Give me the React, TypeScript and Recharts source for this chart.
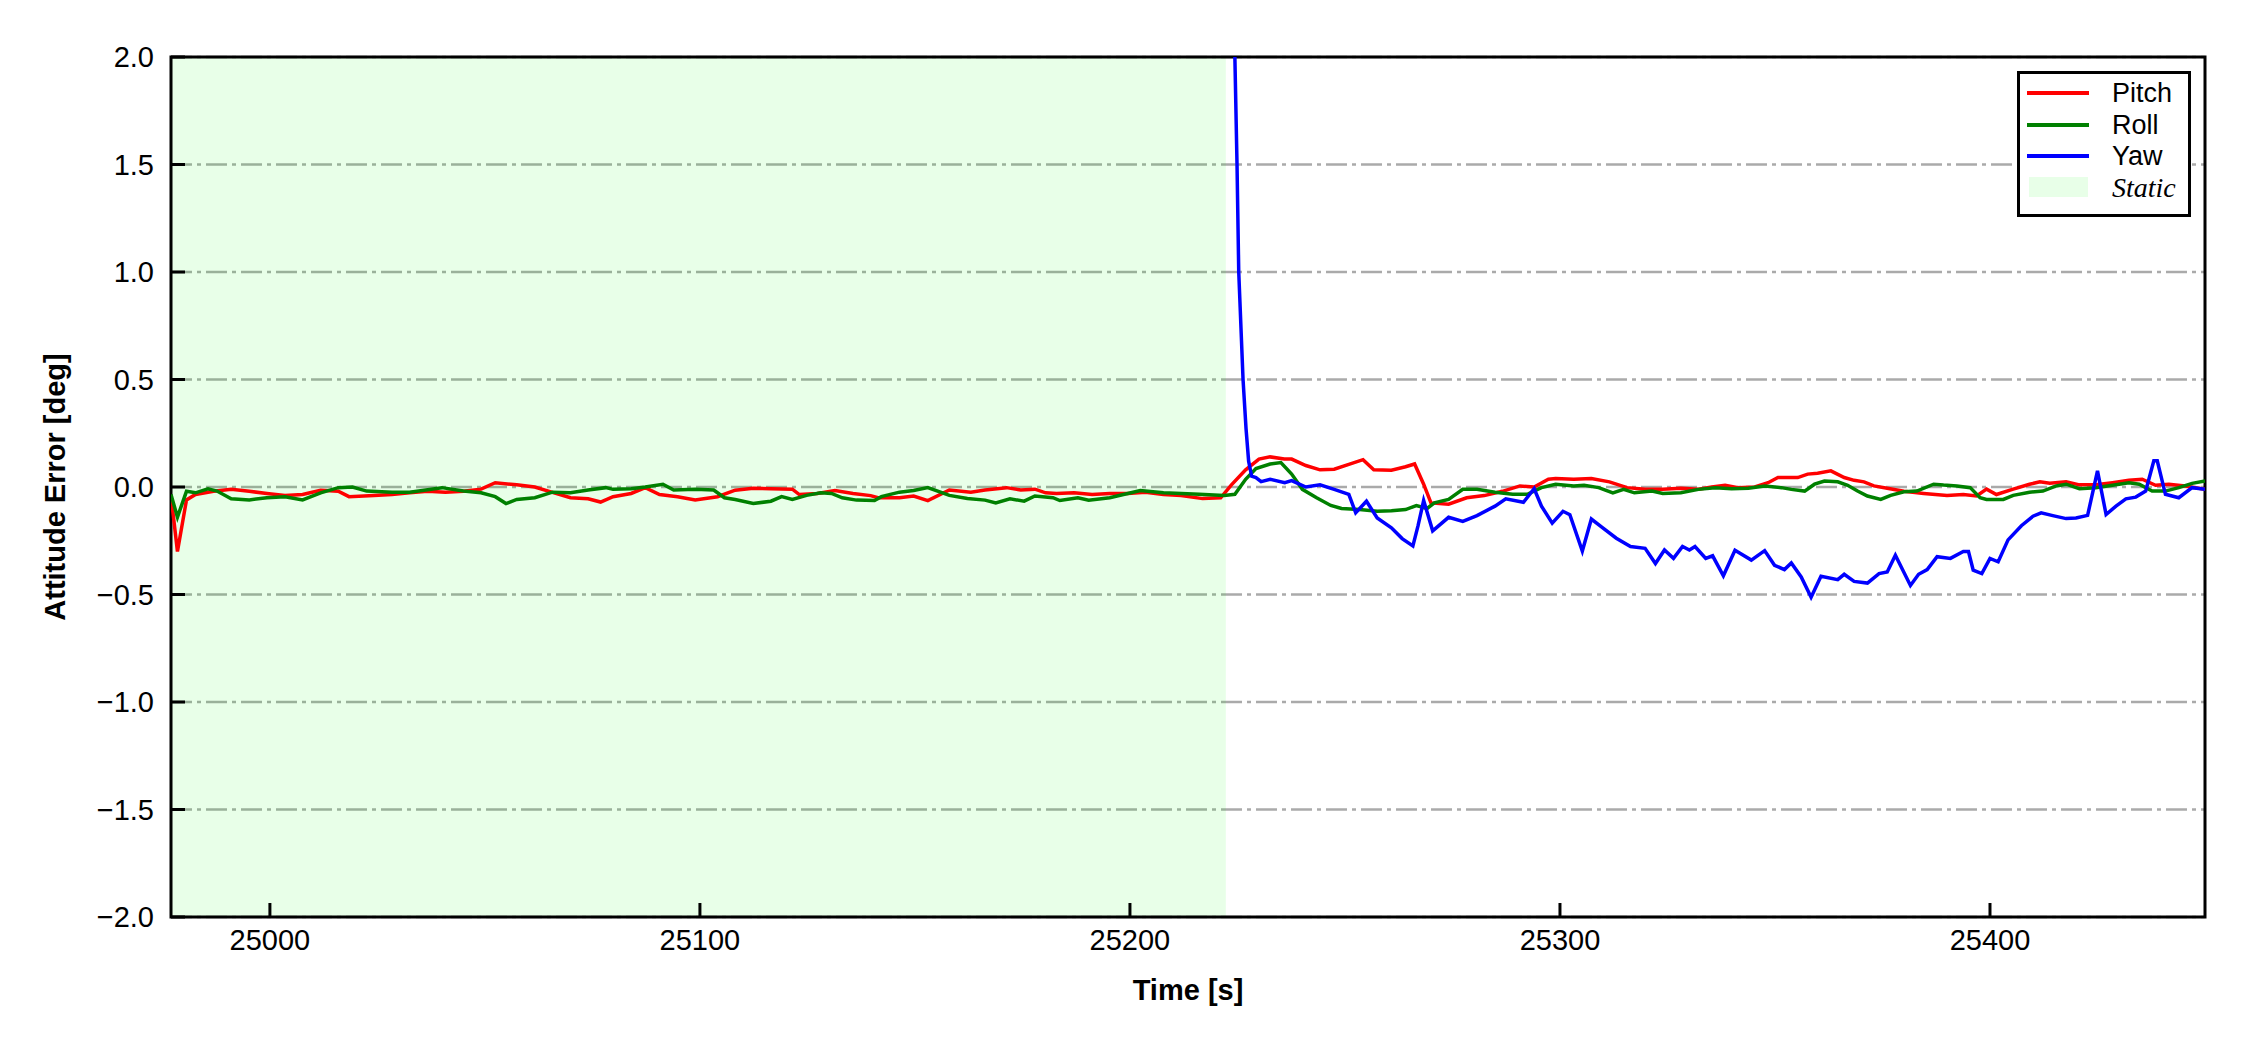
import { LineChart, Line, XAxis, YAxis, CartesianGrid, ReferenceArea, Label } from 'recharts';

// time [s] and attitude error [deg]
const pitchT = [24977, 24978.5, 24980.6, 24982.7, 24986.9, 24991.0, 24995.2, 24999.3, 25003.5, 25007.6, 25011.8, 25015.9, 25018.4, 25024.2, 25028.4, 25032.5, 25036.7, 25040.8, 25045.0, 25049.1, 25052.4, 25057.4, 25061.6, 25065.7, 25069.9, 25074.0, 25076.9, 25079.8, 25084.0, 25087.3, 25090.6, 25094.8, 25098.9, 25104.1, 25108.2, 25112.4, 25116.5, 25121.5, 25123.1, 25127.3, 25131.4, 25135.6, 25139.7, 25141.4, 25146.4, 25149.7, 25153.0, 25158.0, 25163.0, 25166.3, 25171.3, 25174.6, 25177.9, 25180.4, 25182.9, 25187.0, 25191.2, 25195.3, 25199.5, 25203.6, 25207.8, 25211.9, 25216.9, 25221.1, 25223.6, 25226.9, 25230.0, 25232.6, 25235.9, 25237.6, 25240.9, 25244.2, 25247.5, 25250.9, 25254.2, 25256.7, 25260.8, 25264.1, 25266.2, 25268.3, 25270.0, 25274.1, 25278.3, 25282.4, 25286.6, 25290.7, 25294.0, 25297.3, 25299.0, 25303.2, 25307.3, 25311.5, 25315.6, 25319.8, 25323.9, 25328.1, 25332.2, 25335.3, 25338.4, 25341.4, 25345.3, 25348.4, 25350.7, 25355.3, 25357.6, 25359.9, 25363.0, 25366.1, 25368.4, 25370.7, 25373.0, 25376.1, 25380.0, 25384.6, 25390.0, 25393.8, 25396.9, 25399.2, 25401.5, 25405.4, 25409.2, 25411.6, 25413.9, 25417.7, 25420.8, 25424.6, 25428.5, 25432.3, 25435.4, 25438.5, 25441.6, 25445.4, 25450];
const pitchV = [-0.04, -0.3, -0.06, -0.035, -0.02, -0.01, -0.02, -0.03, -0.04, -0.035, -0.015, -0.02, -0.045, -0.04, -0.035, -0.027, -0.02, -0.024, -0.02, -0.01, 0.02, 0.01, 0, -0.025, -0.05, -0.055, -0.07, -0.045, -0.03, -0.003, -0.035, -0.045, -0.06, -0.045, -0.015, -0.006, -0.008, -0.01, -0.035, -0.03, -0.016, -0.03, -0.04, -0.05, -0.05, -0.042, -0.063, -0.014, -0.024, -0.014, -0.003, -0.014, -0.01, -0.027, -0.03, -0.027, -0.035, -0.03, -0.03, -0.024, -0.035, -0.04, -0.054, -0.05, 0.01, 0.08, 0.13, 0.14, 0.13, 0.13, 0.1, 0.08, 0.083, 0.105, 0.127, 0.08, 0.078, 0.094, 0.107, 0.013, -0.074, -0.08, -0.05, -0.04, -0.02, 0.005, 0, 0.036, 0.039, 0.036, 0.039, 0.024, -0.003, -0.01, -0.01, -0.006, -0.01, 0, 0.008, -0.003, 0, 0.02, 0.044, 0.044, 0.06, 0.064, 0.075, 0.044, 0.031, 0.024, 0.005, -0.006, -0.02, -0.03, -0.04, -0.035, -0.042, -0.01, -0.035, -0.01, 0.013, 0.024, 0.017, 0.024, 0.01, 0.01, 0.02, 0.031, 0.036, 0.008, 0.013, 0.005, -0.01];

const rollT = [24977, 24978.5, 24980.6, 24982.7, 24985.6, 24987.7, 24991.0, 24995.2, 24999.3, 25003.5, 25007.6, 25011.8, 25015.9, 25019.2, 25022.5, 25028.4, 25032.5, 25040.0, 25045.0, 25049.1, 25052.4, 25054.9, 25057.4, 25061.6, 25065.7, 25069.9, 25074.0, 25078.1, 25079.8, 25084.0, 25087.3, 25091.4, 25093.9, 25098.9, 25103.2, 25105.7, 25108.2, 25112.4, 25116.5, 25119.0, 25121.5, 25124.8, 25128.1, 25130.6, 25133.1, 25136.4, 25140.6, 25142.2, 25146.4, 25149.7, 25153.0, 25158.0, 25162.2, 25166.3, 25168.8, 25172.1, 25175.4, 25177.9, 25182.1, 25183.7, 25187.9, 25190.4, 25195.3, 25199.5, 25202.4, 25207.8, 25216.1, 25221.9, 25224.4, 25226.9, 25229.3, 25232.6, 25235.1, 25237.6, 25240.1, 25243.4, 25246.7, 25249.2, 25253.4, 25257.5, 25260.8, 25264.1, 25266.6, 25269.1, 25270.8, 25274.1, 25277.4, 25280.7, 25284.9, 25289.0, 25292.4, 25295.7, 25299.0, 25303.2, 25305.6, 25309.0, 25312.3, 25314.8, 25317.3, 25321.4, 25323.9, 25328.1, 25332.2, 25336.1, 25339.9, 25343.8, 25347.6, 25351.5, 25353.8, 25356.9, 25359.2, 25361.5, 25364.6, 25366.9, 25369.2, 25371.5, 25374.6, 25376.9, 25380.0, 25383.0, 25386.9, 25389.2, 25392.3, 25395.4, 25397.7, 25399.2, 25403.1, 25405.4, 25409.2, 25412.3, 25415.4, 25417.7, 25420.8, 25424.6, 25428.5, 25432.3, 25434.7, 25437.7, 25440.8, 25443.9, 25447.0, 25450];
const rollV = [-0.035, -0.14, -0.02, -0.027, -0.008, -0.019, -0.055, -0.06, -0.05, -0.045, -0.06, -0.027, -0.003, 0, -0.019, -0.024, -0.024, -0.003, -0.019, -0.027, -0.045, -0.077, -0.058, -0.05, -0.024, -0.027, -0.014, -0.003, -0.011, -0.008, 0, 0.013, -0.014, -0.011, -0.014, -0.05, -0.058, -0.077, -0.066, -0.045, -0.058, -0.039, -0.027, -0.03, -0.05, -0.061, -0.063, -0.045, -0.024, -0.016, -0.003, -0.039, -0.053, -0.061, -0.074, -0.055, -0.066, -0.042, -0.05, -0.063, -0.05, -0.061, -0.05, -0.03, -0.016, -0.027, -0.034, -0.039, -0.034, 0.036, 0.086, 0.107, 0.114, 0.06, -0.011, -0.05, -0.086, -0.1, -0.105, -0.113, -0.11, -0.105, -0.086, -0.1, -0.074, -0.058, -0.011, -0.011, -0.024, -0.034, -0.034, -0.003, 0.013, 0.005, 0.008, -0.003, -0.027, -0.011, -0.027, -0.019, -0.03, -0.027, -0.011, -0.003, -0.008, -0.006, 0.005, -0.003, -0.011, -0.019, 0.013, 0.028, 0.024, 0.008, -0.019, -0.042, -0.058, -0.039, -0.022, -0.019, 0.013, 0.009, 0.005, -0.003, -0.05, -0.058, -0.058, -0.039, -0.024, -0.019, 0.005, 0.013, -0.008, -0.003, 0.008, 0.02, 0.013, -0.019, -0.019, -0.003, 0.017, 0.028];

const yawT = [25223.8, 25224.4, 25224.9, 25225.3, 25226.3, 25227.0, 25227.6, 25228.3, 25229.3, 25230.5, 25232.6, 25236.0, 25237.6, 25240.9, 25244.2, 25247.5, 25250.9, 25252.5, 25255.0, 25257.5, 25260.8, 25263.3, 25265.8, 25267.0, 25268.3, 25270.4, 25274.1, 25277.4, 25280.7, 25284.9, 25287.4, 25291.5, 25294.0, 25295.7, 25298.2, 25300.7, 25302.3, 25305.2, 25307.3, 25309.8, 25313.1, 25316.4, 25319.8, 25322.2, 25324.3, 25326.4, 25328.5, 25330.1, 25331.4, 25333.9, 25335.5, 25338.0, 25340.7, 25344.5, 25347.6, 25349.9, 25352.2, 25353.8, 25356.1, 25358.4, 25360.7, 25364.6, 25366.1, 25368.4, 25371.5, 25374.2, 25376.1, 25378.0, 25381.5, 25383.4, 25385.4, 25387.7, 25390.8, 25393.8, 25395.0, 25396.1, 25398.1, 25400.0, 25401.9, 25404.2, 25407.3, 25410.0, 25411.9, 25414.6, 25417.7, 25420.0, 25422.7, 25425.0, 25427.0, 25429.3, 25431.6, 25433.9, 25436.2, 25438.1, 25438.9, 25440.8, 25443.9, 25447.0, 25450];
const yawV = [3.0, 2.0, 1.5, 1.0, 0.5, 0.27, 0.12, 0.05, 0.044, 0.025, 0.036, 0.02, 0.03, 0, 0.01, -0.011, -0.034, -0.12, -0.066, -0.144, -0.19, -0.24, -0.274, -0.18, -0.063, -0.204, -0.141, -0.16, -0.133, -0.089, -0.055, -0.071, -0.008, -0.089, -0.168, -0.113, -0.129, -0.298, -0.149, -0.188, -0.238, -0.277, -0.285, -0.356, -0.293, -0.332, -0.277, -0.293, -0.277, -0.332, -0.32, -0.413, -0.294, -0.34, -0.296, -0.364, -0.384, -0.353, -0.418, -0.513, -0.415, -0.431, -0.406, -0.439, -0.447, -0.403, -0.395, -0.317, -0.458, -0.406, -0.384, -0.324, -0.332, -0.3, -0.3, -0.387, -0.403, -0.332, -0.348, -0.246, -0.18, -0.136, -0.12, -0.133, -0.147, -0.144, -0.132, 0.075, -0.128, -0.089, -0.055, -0.047, -0.019, 0.122, 0.122, -0.034, -0.05, -0.003, -0.01];

const staticStart = 24977;
const staticEnd = 25222.3;
const xTicks = [25000, 25100, 25200, 25300, 25400];
const yTicks = [-2, -1.5, -1, -0.5, 0, 0.5, 1, 1.5, 2];

const toPoints = (ts: number[], vs: number[]) => ts.map((t, i) => ({ t, v: vs[i] }));
const pitch = toPoints(pitchT, pitchV);
const roll = toPoints(rollT, rollV);
const yaw = toPoints(yawT, yawV);

const FONT = '"Liberation Sans", Arial, sans-serif';
const fmtY = (v: number) => (v < 0 ? '\u2212' + Math.abs(v).toFixed(1) : v.toFixed(1));

function LegendBox() {
  const rows = [
    { name: 'Pitch', color: '#ff0000', y: 22 },
    { name: 'Roll', color: '#008000', y: 54 },
    { name: 'Yaw', color: '#0000ff', y: 85 },
  ];
  return (
    <svg style={{ position: 'absolute', left: 2017, top: 71, overflow: 'visible' }} width={174} height={146}>
      <rect x={1.5} y={1.5} width={171} height={143} fill="#fff" stroke="#000" strokeWidth={3} />
      {rows.map((r) => (
        <g key={r.name}>
          <line x1={10} x2={72} y1={r.y} y2={r.y} stroke={r.color} strokeWidth={4} />
          <text x={95} y={r.y} dominantBaseline="central" fontFamily={FONT} fontSize={27} fill="#000">
            {r.name}
          </text>
        </g>
      ))}
      <rect x={12} y={106} width={59} height={20} fill="#00ff00" fillOpacity={0.09} />
      <text x={95} y={116} dominantBaseline="central" fontFamily='"Liberation Serif", "Times New Roman", serif' fontStyle="italic" fontSize={28} fill="#000">
        Static
      </text>
    </svg>
  );
}

export default function App() {
  return (
    <div style={{ position: 'absolute', left: 0, top: 0, width: 2250, height: 1050, background: '#fff' }}>
      <LineChart width={2250} height={1050} margin={{ top: 57, right: 45, bottom: 53, left: 71 }}>
        <CartesianGrid vertical={false} stroke="#aaaaaa" strokeWidth={2.7} strokeDasharray="21 5 4 5" />
        {/* translucent so the grid shows through, as in the original */}
        <ReferenceArea x1={staticStart} x2={staticEnd} y1={-2} y2={2} fill="#00ff00" fillOpacity={0.09} stroke="none" />
        <XAxis
          dataKey="t"
          type="number"
          domain={[24977, 25450]}
          ticks={xTicks}
          allowDataOverflow
          height={80}
          axisLine={false}
          tickLine={{ stroke: '#000', strokeWidth: 3 }}
          tickSize={-14}
          tickMargin={26}
          tick={{ fill: '#000', fontSize: 29, fontFamily: FONT }}
          label={
            <Label
              content={() => (
                <text x={1188} y={990} textAnchor="middle" dominantBaseline="central" fontFamily={FONT} fontWeight="bold" fontSize={29} fill="#000">
                  Time [s]
                </text>
              )}
            />
          }
        />
        <YAxis
          type="number"
          domain={[-2, 2]}
          ticks={yTicks}
          allowDataOverflow
          width={100}
          axisLine={false}
          tickLine={{ stroke: '#000', strokeWidth: 3 }}
          tickSize={-14}
          tickMargin={31}
          tickFormatter={fmtY}
          tick={{ fill: '#000', fontSize: 29, fontFamily: FONT }}
          label={
            <Label
              content={() => (
                <text x={55} y={487} transform="rotate(-90 55 487)" textAnchor="middle" dominantBaseline="central" fontFamily={FONT} fontWeight="bold" fontSize={29} fill="#000">
                  Attitude Error [deg]
                </text>
              )}
            />
          }
        />
        <Line data={pitch} dataKey="v" name="Pitch" type="linear" stroke="#ff0000" strokeWidth={3.5} dot={false} isAnimationActive={false} />
        <Line data={roll} dataKey="v" name="Roll" type="linear" stroke="#008000" strokeWidth={3.5} dot={false} isAnimationActive={false} />
        <Line data={yaw} dataKey="v" name="Yaw" type="linear" stroke="#0000ff" strokeWidth={3.5} dot={false} isAnimationActive={false} />
        <ReferenceArea x1={24977} x2={25450} y1={-2} y2={2} fill="none" stroke="#000" strokeWidth={3} />
      </LineChart>
      <LegendBox />
    </div>
  );
}
